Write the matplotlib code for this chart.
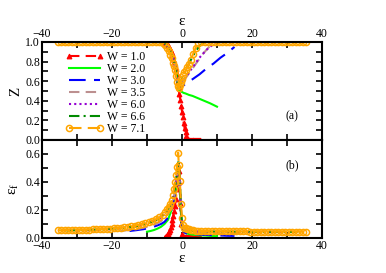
import matplotlib
matplotlib.use('Agg')
import matplotlib.pyplot as plt
from matplotlib.ticker import MultipleLocator

plt.rcParams['font.family'] = ['Liberation Serif', 'DejaVu Serif']
plt.rcParams['mathtext.fontset'] = 'custom'
plt.rcParams['mathtext.rm'] = 'Liberation Serif'

# W = 1.0
eps_w10 = [-5.0, -4.75, -4.5, -4.25, -4.0, -3.75, -3.5, -3.25, -3.0, -2.75, -2.5, -2.25, -2.0, -1.75,
           -1.5, -1.25, -1.0, -0.75, -0.5, -0.25, 0.0, 0.25, 0.5, 0.75, 1.0, 1.25, 1.5, 1.75, 2.0,
           2.25, 2.5, 2.75, 3.0, 3.25, 3.5, 3.75, 4.0, 4.25, 4.5, 4.75, 5.0]
z_w10 = [1.0, 1.0, 0.99, 0.98, 0.97, 0.95, 0.93, 0.91, 0.89, 0.86, 0.83, 0.80, 0.77, 0.72,
         0.67, 0.60, 0.53, 0.47, 0.41, 0.35, 0.29, 0.23, 0.17, 0.12, 0.08, 0.04, 0.02, 0.01, 0.0,
         0.0, 0.0, 0.0, 0.0, 0.0, 0.0, 0.0, 0.0, 0.0, 0.0, 0.0, 0.0]
ef_w10 = [0.0, 0.01, 0.015, 0.02, 0.03, 0.045, 0.06, 0.08, 0.10, 0.13, 0.16, 0.19, 0.23, 0.28,
          0.35, 0.42, 0.48, 0.40, 0.25, 0.10, 0.03, 0.015, 0.01, 0.01, 0.01, 0.01, 0.01, 0.01, 0.01,
          0.01, 0.01, 0.01, 0.01, 0.01, 0.01, 0.01, 0.01, 0.01, 0.01, 0.01, 0.01]

# W = 2.0
eps_w20 = [-10, -9, -8, -7, -6, -5, -4, -3, -2.5, -2, -1.5, -1, -0.75, -0.5, -0.25, 0,
           0.5, 1, 2, 3, 4, 6, 8, 10]
z_w20 = [1.0, 1.0, 1.0, 1.0, 1.0, 0.99, 0.95, 0.88, 0.83, 0.77, 0.67, 0.53, 0.50, 0.50, 0.495, 0.49,
         0.48, 0.475, 0.46, 0.45, 0.435, 0.405, 0.375, 0.34]
ef_w20 = [0.045, 0.05, 0.057, 0.067, 0.08, 0.1, 0.13, 0.2, 0.25, 0.31, 0.4, 0.5, 0.45, 0.3, 0.15, 0.08,
          0.045, 0.035, 0.028, 0.024, 0.021, 0.018, 0.015, 0.013]

# W = 3.0
eps_w30 = [-15, -13, -11, -9, -7, -6, -5, -4, -3, -2.5, -2, -1.5, -1, -0.75, -0.5, -0.25, 0,
           0.5, 1, 2, 3, 5, 7, 9, 11, 13, 15]
z_w30 = [1.0, 1.0, 1.0, 1.0, 1.0, 1.0, 0.99, 0.95, 0.88, 0.83, 0.77, 0.67, 0.54, 0.52, 0.53, 0.54, 0.545,
         0.56, 0.57, 0.6, 0.62, 0.67, 0.73, 0.78, 0.84, 0.89, 0.95]
ef_w30 = [0.05, 0.056, 0.063, 0.073, 0.09, 0.1, 0.115, 0.145, 0.2, 0.25, 0.31, 0.4, 0.52, 0.45, 0.3, 0.15, 0.08,
          0.045, 0.035, 0.03, 0.027, 0.024, 0.022, 0.02, 0.018, 0.016, 0.015]

# W = 3.5
eps_w35 = [-17.5, -15, -12, -9, -7, -6, -5, -4, -3, -2.5, -2, -1.5, -1, -0.75, -0.5, -0.25, 0,
           1, 2, 3, 4, 5, 6, 7, 8, 9, 10, 12, 15, 17.5]
z_w35 = [1.0, 1.0, 1.0, 1.0, 1.0, 1.0, 0.99, 0.95, 0.88, 0.83, 0.77, 0.67, 0.54, 0.53, 0.54, 0.56, 0.58,
         0.63, 0.68, 0.73, 0.78, 0.83, 0.88, 0.92, 0.96, 0.99, 1.0, 1.0, 1.0, 1.0]
ef_w35 = [0.05, 0.058, 0.068, 0.085, 0.105, 0.12, 0.14, 0.17, 0.22, 0.27, 0.34, 0.43, 0.53, 0.45, 0.3, 0.16, 0.09,
          0.05, 0.042, 0.038, 0.036, 0.035, 0.035, 0.034, 0.034, 0.034, 0.033, 0.033, 0.033, 0.033]

# W = 6.0
eps_w60 = [-30, -25, -20, -15, -12, -9, -7, -6, -5, -4, -3, -2.5, -2, -1.5, -1, -0.75, -0.5, -0.25, 0,
           1, 2, 3, 4, 5, 6, 7, 8, 9, 10, 15, 20, 25, 30]
z_w60 = [1.0, 1.0, 1.0, 1.0, 1.0, 1.0, 1.0, 1.0, 0.99, 0.95, 0.88, 0.83, 0.76, 0.66, 0.54, 0.535, 0.55, 0.57, 0.59,
         0.64, 0.69, 0.74, 0.79, 0.84, 0.88, 0.92, 0.95, 0.98, 1.0, 1.0, 1.0, 1.0, 1.0]
ef_w60 = [0.052, 0.056, 0.063, 0.075, 0.088, 0.11, 0.13, 0.145, 0.17, 0.2, 0.25, 0.29, 0.35, 0.44, 0.54, 0.46,
          0.32, 0.18, 0.1, 0.065, 0.055, 0.05, 0.048, 0.047, 0.046, 0.045, 0.045, 0.045, 0.044, 0.043,
          0.042, 0.042, 0.041]

# W = 6.6
eps_w66 = [-33, -28, -23, -18, -14, -11, -8, -6, -5, -4, -3, -2.5, -2, -1.5, -1, -0.75, -0.5, -0.25, 0,
           0.5, 1, 2, 3, 4, 5, 6, 7, 10, 15, 20, 25, 30, 33]
z_w66 = [1.0, 1.0, 1.0, 1.0, 1.0, 1.0, 1.0, 1.0, 0.99, 0.95, 0.87, 0.82, 0.75, 0.65, 0.54, 0.54, 0.56, 0.6, 0.63,
         0.67, 0.71, 0.78, 0.85, 0.91, 0.96, 0.99, 1.0, 1.0, 1.0, 1.0, 1.0, 1.0, 1.0]
ef_w66 = [0.053, 0.057, 0.062, 0.07, 0.08, 0.095, 0.12, 0.15, 0.175, 0.205, 0.255, 0.3, 0.36, 0.45, 0.56, 0.47,
          0.33, 0.19, 0.11, 0.08, 0.066, 0.056, 0.051, 0.049, 0.048, 0.047, 0.047, 0.046, 0.045, 0.044,
          0.044, 0.043, 0.043]

# W = 7.1
eps_w71 = [-35.5, -34.5, -33.5, -32.5, -31.5, -30.5, -29.5, -28.5, -27.5, -26.5,
           -25.5, -24.5, -23.5, -22.5, -21.5, -20.5, -19.5, -18.5, -17.5, -16.5,
           -15.5, -14.5, -13.5, -12.5, -11.5, -10.5, -9.5, -8.5, -7.5, -6.5,
           -5.5, -4.9, -4.3, -3.8, -3.3, -2.9, -2.6, -2.3, -2.0, -1.7, -1.4, -1.1, -0.9,
           -0.6, -0.3, 0.0, 0.3, 0.7, 1.1, 1.5, 2.0, 2.6, 3.2, 3.9, 4.6,
           5.5, 6.5, 7.5, 8.5, 9.5, 10.5, 11.5, 12.5, 13.5, 14.5, 15.5, 16.5, 17.5, 18.5, 19.5,
           20.5, 21.5, 22.5, 23.5, 24.5, 25.5, 26.5, 27.5, 28.5, 29.5, 30.5, 31.5, 32.5, 33.5, 34.5, 35.5]
z_w71 = [1.0, 1.0, 1.0, 1.0, 1.0, 1.0, 1.0, 1.0, 1.0, 1.0,
         1.0, 1.0, 1.0, 1.0, 1.0, 1.0, 1.0, 1.0, 1.0, 1.0,
         1.0, 1.0, 1.0, 1.0, 1.0, 1.0, 1.0, 1.0, 1.0, 1.0,
         0.99, 0.97, 0.94, 0.91, 0.87, 0.84, 0.79, 0.75, 0.71, 0.65, 0.59, 0.55, 0.53,
         0.56, 0.59, 0.62, 0.66, 0.69, 0.71, 0.74, 0.78, 0.82, 0.88, 0.94, 0.99,
         1.0, 1.0, 1.0, 1.0, 1.0, 1.0, 1.0, 1.0, 1.0, 1.0, 1.0, 1.0, 1.0, 1.0, 1.0,
         1.0, 1.0, 1.0, 1.0, 1.0, 1.0, 1.0, 1.0, 1.0, 1.0, 1.0, 1.0, 1.0, 1.0, 1.0, 1.0]
ef_w71 = [0.055, 0.055, 0.056, 0.056, 0.057, 0.057, 0.058, 0.058, 0.059, 0.060,
          0.061, 0.062, 0.063, 0.064, 0.066, 0.067, 0.069, 0.071, 0.073, 0.076,
          0.079, 0.083, 0.088, 0.094, 0.100, 0.107, 0.115, 0.124, 0.134, 0.147,
          0.165, 0.185, 0.205, 0.225, 0.245, 0.27, 0.31, 0.35, 0.40, 0.45, 0.51, 0.61, 0.52,
          0.41, 0.24, 0.14, 0.09, 0.075, 0.07, 0.066, 0.062, 0.058, 0.055, 0.053, 0.051,
          0.050, 0.050, 0.049, 0.049, 0.049, 0.048, 0.048, 0.048, 0.048, 0.047, 0.047, 0.047, 0.047, 0.047, 0.046,
          0.046, 0.046, 0.046, 0.046, 0.046, 0.045, 0.045, 0.045, 0.045, 0.045, 0.045, 0.045, 0.045, 0.045, 0.045, 0.045]

labels = ['W = 1.0', 'W = 2.0', 'W = 3.0', 'W = 3.5', 'W = 6.0', 'W = 6.6', 'W = 7.1']
eps_all = [eps_w10, eps_w20, eps_w30, eps_w35, eps_w60, eps_w66, eps_w71]
z_all = [z_w10, z_w20, z_w30, z_w35, z_w60, z_w66, z_w71]
ef_all = [ef_w10, ef_w20, ef_w30, ef_w35, ef_w60, ef_w66, ef_w71]

styles = [
    dict(color='#ff0000', ls=(0, (5, 3)), marker='^', ms=3.4, mew=0.8),
    dict(color='#00ff00', ls='-'),
    dict(color='#0000ff', ls=(0, (8, 4))),
    dict(color='#bc8f8f', ls=(0, (5, 3))),
    dict(color='#9400d3', ls=(0, (1, 1.5))),
    dict(color='#008b00', ls=(0, (5, 2, 1, 2))),
    dict(color='#ffa500', ls=(0, (6, 3)), marker='o', ms=4.4, mfc='none', mew=1.1),
]

fig = plt.figure(figsize=(3.86, 2.73), dpi=100)
ax1 = fig.add_axes([42/386, 1-140/273, 280/386, 98/273])
ax2 = fig.add_axes([42/386, 1-238/273, 280/386, 98/273])

for eps, z, ef, lab, st in zip(eps_all, z_all, ef_all, labels, styles):
    ax1.plot(eps, z, lw=1.5, label=lab, **st)
    ax2.plot(eps, ef, lw=1.5, **st)

for ax in (ax1, ax2):
    ax.set_xlim(-40, 40)
    ax.xaxis.set_major_locator(MultipleLocator(20))
    ax.xaxis.set_minor_locator(MultipleLocator(10))
    ax.yaxis.set_major_locator(MultipleLocator(0.2))
    ax.yaxis.set_minor_locator(MultipleLocator(0.1))
    ax.tick_params(which='both', direction='in', top=True, right=True, length=4, width=1.2,
                   labelsize=8.5, pad=1.5)
    for s in ax.spines.values():
        s.set_linewidth(1.5)
    ax.yaxis.set_major_formatter(plt.FormatStrFormatter('%.1f'))

ax1.set_ylim(0, 1.0)
ax1.tick_params(labeltop=True, labelbottom=False)
ax1.xaxis.set_label_position('top')
ax1.set_xlabel('ε', fontsize=11, labelpad=2)
ax1.set_ylabel('Z', fontsize=11, labelpad=2)
ax1.text(0.893, 0.245, '(a)', transform=ax1.transAxes, ha='center', va='center', fontsize=8.5)
ax1.legend(loc='upper left', bbox_to_anchor=(0.082, 0.91), frameon=False, fontsize=8.5,
           numpoints=2, handlelength=3.3, handletextpad=0.3, labelspacing=0.0,
           borderpad=0, borderaxespad=0)

ax2.set_ylim(0, 0.7)
ax2.set_xlabel('ε', fontsize=11, labelpad=0)
ax2.set_ylabel(r'ε$_\mathrm{f}$', fontsize=11, labelpad=3)
ax2.text(0.893, 0.745, '(b)', transform=ax2.transAxes, ha='center', va='center', fontsize=8.5)

fig.savefig('out.png', dpi=100)
